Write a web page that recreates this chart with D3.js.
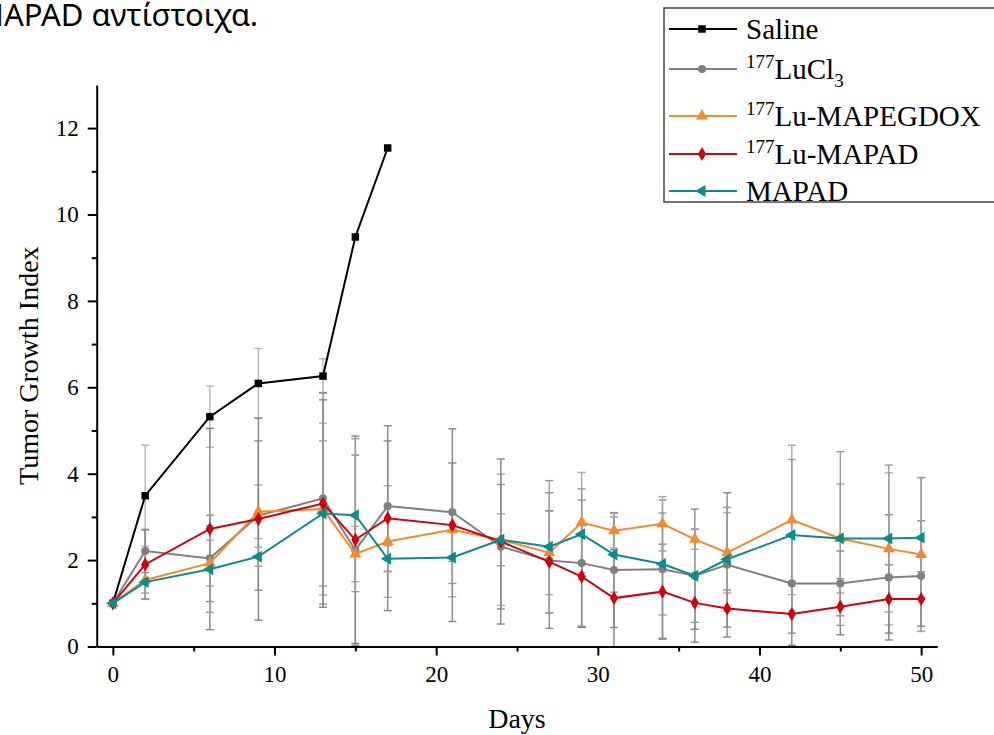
<!DOCTYPE html>
<html>
<head>
<meta charset="utf-8">
<script src="https://cdn.jsdelivr.net/npm/d3@7"></script>
<style>
body { margin:0; background:#fff; }
svg { display:block; }
</style>
</head>
<body>
<div id="chart"></div>
<script>

// measurement days
var days = [0,2,6,9,13,15,17,21,24,27,29,31,34,36,38,42,45,48,50];
var salineDays = [0,2,6,9,13,15,17];

// tumor growth index (mean) and error (sd) for each group
var saline    = [1.0,3.49,5.32,6.09,6.26,9.48,11.54];
var salineErr = [0,1.17,0.71,0.81,0.40,0,0];

var lucl3    = [1.0,2.21,2.04,3.03,3.43,2.23,3.25,3.11,2.31,1.99,1.93,1.77,1.79,1.64,1.89,1.46,1.46,1.60,1.63];
var lucl3Err = [0,0.5,1.0,1.73,2.45,2.2,1.51,1.14,1.44,1.57,1.46,1.33,1.6,1.54,1.67,1.15,0.75,1.45,1.28];

var mapegdox    = [1.0,1.54,1.93,3.12,3.18,2.14,2.43,2.70,2.47,2.17,2.87,2.68,2.84,2.48,2.17,2.93,2.50,2.26,2.13];
var mapegdoxErr = [0,0.3,0.53,0.62,1.99,0.64,1.29,1.55,1.52,0.97,1.16,0.4,0.63,0.23,0.93,1.73,1.26,1.76,1.78];

var luMapad    = [1.0,1.90,2.72,2.95,3.31,2.47,2.97,2.81,2.43,1.96,1.62,1.12,1.27,1.01,0.88,0.75,0.92,1.10,1.10];
var luMapadErr = [0,0.8,2.33,2.34,2.40,2.4,2.14,2.23,1.91,1.18,1.18,1.12,1.1,0.61,0.43,0.72,0.65,0.79,0.63];

var mapad    = [1.0,1.49,1.79,2.08,3.08,3.04,2.03,2.06,2.47,2.31,2.60,2.13,1.91,1.64,2.02,2.58,2.50,2.50,2.52];
var mapadErr = [0,0.4,1.0,0.22,1.68,1.77,0.3,0.6,0.6,1.53,1.05,0.87,1.18,1.08,1.2,1.75,2.01,1.7,1.39];

var xMajor = [0,10,20,30,40,50];
var xMinor = [5,15,25,35,45];
var yMajor = [0,2,4,6,8,10,12];
var yMinor = [1,3,5,7,9,11];

var series = [
  {name:"Saline", sup:"", sub:"", x:salineDays, y:saline, err:salineErr, color:"#000000", errColor:"#b4b4b4", shape:"square"},
  {name:"LuCl", sup:"177", sub:"3", x:days, y:lucl3, err:lucl3Err, color:"#808080", errColor:"#8a8a8a", shape:"circle"},
  {name:"Lu-MAPEGDOX", sup:"177", sub:"", x:days, y:mapegdox, err:mapegdoxErr, color:"#f28a2e", errColor:"#a8a8a8", shape:"triangle"},
  {name:"Lu-MAPAD", sup:"177", sub:"", x:days, y:luMapad, err:luMapadErr, color:"#d0000e", errColor:"#858585", shape:"diamond"},
  {name:"MAPAD", sup:"", sub:"", x:days, y:mapad, err:mapadErr, color:"#0a8c8c", errColor:"#9a9a9a", shape:"left"}
];

var W = 994, H = 735;
var svg = d3.select("#chart").append("svg").attr("width", W).attr("height", H);

var x = d3.scaleLinear().domain([-1, 51]).range([96.7, 937.3]);
var y = d3.scaleLinear().domain([0, 13]).range([646.5, 84.9]);

var serif = "'Liberation Serif','Times New Roman',serif";

// bit of text cut off at the top-left, part of the page the chart came from
svg.append("text")
  .attr("x", 258).attr("y", 26)
  .attr("text-anchor", "end")
  .style("font-family", "'Noto Sans','Open Sans',sans-serif")
  .style("font-size", "31px")
  .text("MAPAD αντίστοιχα.");

function symbolPath(shape){
  if(shape==="square") return d3.symbol().type(d3.symbolSquare).size(56)();
  if(shape==="circle") return d3.symbol().type(d3.symbolCircle).size(52)();
  if(shape==="triangle") return d3.symbol().type(d3.symbolTriangle).size(62)();
  if(shape==="diamond") return d3.symbol().type(d3.symbolDiamond).size(58)();
  return d3.symbol().type(d3.symbolTriangle).size(62)();
}
function symbolRot(shape){
  return shape==="left" ? -90 : 0;
}

// error bars first
series.forEach(function(s){
  var g = svg.append("g").attr("stroke", s.errColor).attr("stroke-width", 1.4).attr("fill", "none");
  s.x.forEach(function(d, i){
    if(!s.err[i]) return;
    var cx = x(d), lo = Math.max(0, s.y[i]-s.err[i]), hi = s.y[i]+s.err[i];
    g.append("line").attr("x1", cx).attr("x2", cx).attr("y1", y(lo)).attr("y2", y(hi));
    g.append("line").attr("x1", cx-4).attr("x2", cx+4).attr("y1", y(hi)).attr("y2", y(hi));
    if(s.y[i]-s.err[i] > 0)
      g.append("line").attr("x1", cx-4).attr("x2", cx+4).attr("y1", y(lo)).attr("y2", y(lo));
  });
});

// lines and markers
series.forEach(function(s){
  var pts = s.x.map(function(d, i){ return [d, s.y[i]]; });
  svg.append("path")
    .datum(pts)
    .attr("fill", "none")
    .attr("stroke", s.color)
    .attr("stroke-width", 2)
    .attr("d", d3.line().x(function(d){ return x(d[0]); }).y(function(d){ return y(d[1]); }));
  svg.append("g").selectAll("path")
    .data(pts)
    .enter()
    .append("path")
    .attr("d", symbolPath(s.shape))
    .attr("fill", s.color)
    .attr("transform", function(d){ return "translate(" + x(d[0]) + "," + y(d[1]) + ") rotate(" + symbolRot(s.shape) + ")"; });
});

// axes
var xAxis = svg.append("g").attr("transform", "translate(0," + y(0) + ")")
  .call(d3.axisBottom(x).tickValues(xMajor).tickSize(9).tickSizeOuter(0).tickPadding(10));
svg.append("g").attr("transform", "translate(0," + y(0) + ")")
  .call(d3.axisBottom(x).tickValues(xMinor).tickSize(5).tickSizeOuter(0).tickFormat(""))
  .select(".domain").remove();
var yAxis = svg.append("g").attr("transform", "translate(" + x(-1) + ",0)")
  .call(d3.axisLeft(y).tickValues(yMajor).tickSize(9).tickSizeOuter(0).tickPadding(9));
svg.append("g").attr("transform", "translate(" + x(-1) + ",0)")
  .call(d3.axisLeft(y).tickValues(yMinor).tickSize(5).tickSizeOuter(0).tickFormat(""))
  .select(".domain").remove();

xAxis.attr("font-family", serif).attr("font-size", 23);
yAxis.attr("font-family", serif).attr("font-size", 23);
svg.selectAll(".domain").attr("stroke", "#000").attr("stroke-width", 2);
svg.selectAll(".tick line").attr("stroke", "#000").attr("stroke-width", 2);
svg.selectAll(".tick text").style("font-family", serif).style("font-size", "23px").attr("fill", "#000");

svg.append("text")
  .attr("x", x(25)).attr("y", 728)
  .attr("text-anchor", "middle")
  .style("font-family", serif).style("font-size", "28px")
  .text("Days");

svg.append("text")
  .attr("transform", "translate(38," + ((y(0)+y(13))/2) + ") rotate(-90)")
  .attr("text-anchor", "middle")
  .style("font-family", serif).style("font-size", "28px")
  .text("Tumor Growth Index");

// legend
var legendRows = [29, 69, 116, 154, 191];
var lg = svg.append("g");
lg.append("rect")
  .attr("x", 664).attr("y", 8).attr("width", 340).attr("height", 194)
  .attr("fill", "#fff").attr("stroke", "#444").attr("stroke-width", 1.5);

series.forEach(function(s, i){
  var ly = legendRows[i];
  lg.append("line").attr("x1", 669).attr("x2", 737).attr("y1", ly).attr("y2", ly)
    .attr("stroke", s.color).attr("stroke-width", 2);
  lg.append("path").attr("d", symbolPath(s.shape)).attr("fill", s.color)
    .attr("transform", "translate(702," + ly + ") rotate(" + symbolRot(s.shape) + ")");
  var t = lg.append("text").attr("x", 746).attr("y", ly + 10)
    .style("font-family", serif).style("font-size", "29px");
  if(s.sup){
    t.append("tspan").attr("dy", -11).style("font-size", "19px").text(s.sup);
    t.append("tspan").attr("dy", 11).text(s.name);
  } else {
    t.append("tspan").text(s.name);
  }
  if(s.sub){
    t.append("tspan").attr("dy", 8).style("font-size", "19px").text(s.sub);
  }
});

</script>
</body>
</html>
